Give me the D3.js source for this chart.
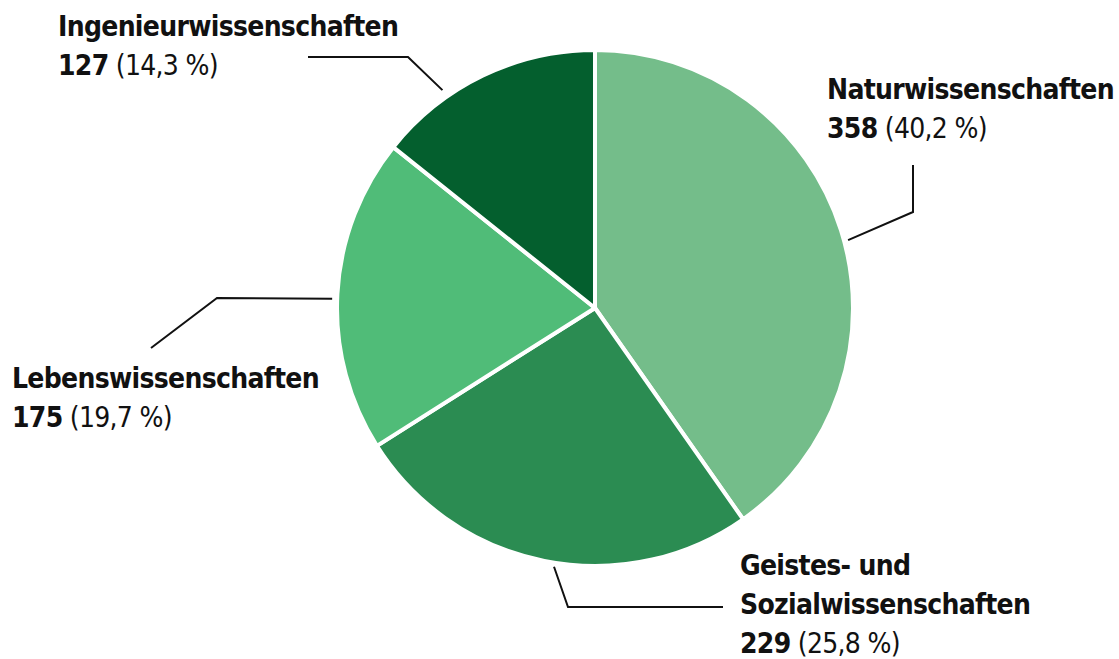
<!DOCTYPE html>
<html>
<head>
<meta charset="utf-8">
<script src="https://cdn.jsdelivr.net/npm/d3@7"></script>
<style>
  body { margin: 0; background: #fff; }
  text { font-family: "DejaVu Sans Condensed", "Liberation Sans Narrow", "Roboto", sans-serif; fill: #111; }
</style>
</head>
<body>
<script>
var width = 1119;
var height = 659;

// data
var categories = ["Naturwissenschaften", "Geistes- und Sozialwissenschaften", "Lebenswissenschaften", "Ingenieurwissenschaften"];
var values = [358, 229, 175, 127];
var shares = ["40,2 %", "25,8 %", "19,7 %", "14,3 %"];
var colors = ["#74bd8a", "#2b8c52", "#50bc78", "#045f2e"];

// label layout (positions only)
var labelLines = [["Naturwissenschaften"], ["Geistes- und", "Sozialwissenschaften"], ["Lebenswissenschaften"], ["Ingenieurwissenschaften"]];
var labelPos = [[827, 99], [740, 575], [12, 388], [58, 36]];
var leader = [
  { angle: 75, r: 262, pts: [[913, 212], [913, 165]] },
  { angle: 189, r: 262, pts: [[568, 607], [723, 607]] },
  { angle: 272, r: 263, pts: [[217, 298], [151, 348]] },
  { angle: 325, r: 266, pts: [[408, 57], [308, 57]] }
];

var cx = 595, cy = 308, radius = 258;

var svg = d3.select("body")
  .append("svg")
  .attr("width", width)
  .attr("height", height);

var pie = d3.pie().sort(null).value(function(d) { return d; });
var arc = d3.arc().innerRadius(0).outerRadius(radius);

var g = svg.append("g").attr("transform", "translate(" + cx + "," + cy + ")");

g.selectAll("path")
  .data(pie(values))
  .enter().append("path")
    .attr("d", arc)
    .attr("fill", function(d, i) { return colors[i]; })
    .attr("stroke", "#fff")
    .attr("stroke-width", 4)
    .attr("stroke-linejoin", "round");

// leader lines
var line = d3.line();
svg.append("g")
  .selectAll("path")
  .data(leader)
  .enter().append("path")
    .attr("d", function(d) {
      var a = d.angle * Math.PI / 180;
      var start = [cx + d.r * Math.sin(a), cy - d.r * Math.cos(a)];
      return line([start].concat(d.pts));
    })
    .attr("fill", "none")
    .attr("stroke", "#111")
    .attr("stroke-width", 2);

// labels
var lh = 39;
categories.forEach(function(c, i) {
  var t = svg.append("text")
    .attr("x", labelPos[i][0])
    .attr("y", labelPos[i][1])
    .style("font-size", "28px")
    .style("letter-spacing", "-0.7px");
  labelLines[i].forEach(function(l, j) {
    t.append("tspan")
      .attr("x", labelPos[i][0])
      .attr("dy", j === 0 ? 0 : lh)
      .style("font-weight", "bold")
      .text(l);
  });
  var last = t.append("tspan")
    .attr("x", labelPos[i][0])
    .attr("dy", lh);
  last.append("tspan").style("font-weight", "bold").text(values[i]);
  last.append("tspan").text(" (" + shares[i] + ")");
});
</script>
</body>
</html>
